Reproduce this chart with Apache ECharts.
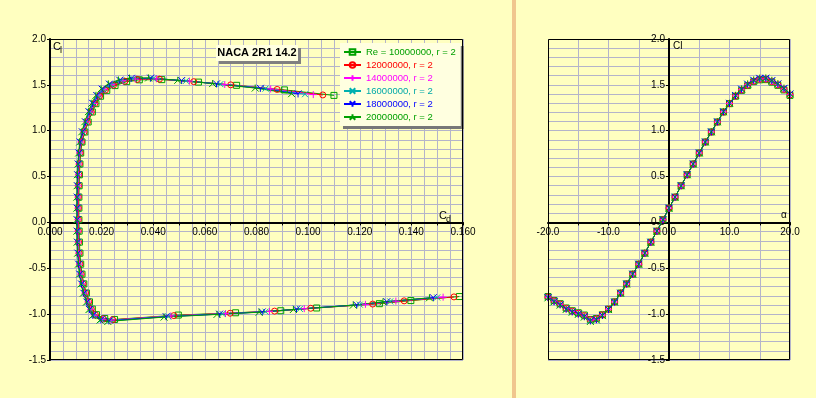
<!DOCTYPE html>
<html><head><meta charset="utf-8">
<script src="https://cdn.jsdelivr.net/npm/echarts@6/dist/echarts.min.js"></script>
<style>html,body{margin:0;padding:0;background:#FFFFC0}#c{width:816px;height:398px}</style>
</head><body><div id="c"></div><script>
// ---- data ----
const alpha = [-20,-19,-18,-17,-16,-15,-14,-13,-12,-11,-10,-9,-8,-7,-6,-5,-4,-3,-2,-1,0,1,2,3,4,5,6,7,8,9,10,11,12,13,14,15,16,17,18,19,20];
const seriesNames = ['Re = 10000000, r = 2','12000000, r = 2','14000000, r = 2','16000000, r = 2','18000000, r = 2','20000000, r = 2'];

const cl10 = [-0.808,-0.852,-0.886,-0.933,-0.963,-0.985,-1.010,-1.058,-1.048,-1.006,-0.945,-0.866,-0.770,-0.670,-0.564,-0.455,-0.335,-0.215,-0.095,0.030,0.156,0.276,0.400,0.520,0.637,0.757,0.877,0.986,1.095,1.204,1.295,1.376,1.440,1.492,1.535,1.555,1.557,1.530,1.495,1.445,1.385];
const cd10 = [0.1586,0.1398,0.1276,0.1033,0.0894,0.0719,0.0497,0.0250,0.0212,0.0180,0.0164,0.0153,0.0141,0.0131,0.0124,0.0119,0.0116,0.0114,0.0113,0.0112,0.0112,0.0112,0.0113,0.0114,0.0116,0.0119,0.0124,0.0135,0.0148,0.0164,0.0178,0.0196,0.0220,0.0252,0.0297,0.0346,0.0433,0.0575,0.0723,0.0908,0.1100];

const cl12 = [-0.812,-0.855,-0.890,-0.936,-0.967,-0.990,-1.016,-1.062,-1.052,-1.008,-0.946,-0.866,-0.770,-0.670,-0.564,-0.455,-0.335,-0.215,-0.095,0.030,0.156,0.276,0.400,0.520,0.637,0.757,0.877,0.986,1.095,1.204,1.296,1.378,1.444,1.497,1.540,1.560,1.562,1.535,1.500,1.450,1.390];
const cd12 = [0.1565,0.1372,0.1250,0.1010,0.0870,0.0698,0.0480,0.0243,0.0207,0.0176,0.0160,0.0150,0.0138,0.0128,0.0121,0.0116,0.0113,0.0111,0.0110,0.0110,0.0110,0.0110,0.0111,0.0112,0.0114,0.0117,0.0122,0.0132,0.0145,0.0160,0.0174,0.0192,0.0215,0.0246,0.0290,0.0338,0.0424,0.0557,0.0700,0.0880,0.1057];

const cl14 = [-0.815,-0.858,-0.893,-0.940,-0.970,-0.994,-1.020,-1.066,-1.055,-1.010,-0.947,-0.867,-0.771,-0.670,-0.564,-0.455,-0.335,-0.215,-0.095,0.030,0.156,0.276,0.400,0.520,0.637,0.757,0.877,0.987,1.096,1.205,1.297,1.380,1.447,1.501,1.544,1.564,1.566,1.540,1.504,1.455,1.394];
const cd14 = [0.1523,0.1340,0.1222,0.0985,0.0850,0.0680,0.0468,0.0237,0.0203,0.0172,0.0157,0.0147,0.0135,0.0126,0.0119,0.0114,0.0111,0.0109,0.0108,0.0108,0.0108,0.0108,0.0109,0.0110,0.0112,0.0115,0.0120,0.0129,0.0142,0.0157,0.0171,0.0188,0.0210,0.0240,0.0283,0.0330,0.0412,0.0540,0.0677,0.0855,0.1020];

const cl16 = [-0.818,-0.861,-0.896,-0.943,-0.973,-0.997,-1.024,-1.070,-1.058,-1.012,-0.948,-0.868,-0.771,-0.671,-0.564,-0.455,-0.335,-0.215,-0.095,0.030,0.156,0.276,0.400,0.520,0.637,0.757,0.877,0.987,1.096,1.206,1.298,1.382,1.450,1.505,1.548,1.568,1.570,1.544,1.508,1.459,1.398];
const cd16 = [0.1500,0.1318,0.1200,0.0968,0.0835,0.0668,0.0458,0.0232,0.0200,0.0169,0.0155,0.0145,0.0133,0.0124,0.0117,0.0112,0.0109,0.0107,0.0107,0.0106,0.0106,0.0107,0.0107,0.0109,0.0111,0.0114,0.0118,0.0127,0.0139,0.0154,0.0168,0.0185,0.0206,0.0235,0.0276,0.0322,0.0400,0.0527,0.0660,0.0835,0.0988];

const cl18 = [-0.820,-0.864,-0.899,-0.946,-0.976,-1.000,-1.028,-1.074,-1.061,-1.014,-0.949,-0.868,-0.772,-0.671,-0.564,-0.455,-0.335,-0.215,-0.095,0.030,0.156,0.276,0.400,0.520,0.637,0.757,0.877,0.988,1.097,1.207,1.299,1.384,1.453,1.508,1.551,1.571,1.573,1.547,1.511,1.462,1.401];
const cd18 = [0.1485,0.1305,0.1188,0.0955,0.0822,0.0657,0.0450,0.0228,0.0197,0.0166,0.0153,0.0143,0.0131,0.0122,0.0115,0.0111,0.0108,0.0106,0.0105,0.0105,0.0105,0.0105,0.0106,0.0107,0.0109,0.0112,0.0117,0.0125,0.0137,0.0151,0.0165,0.0181,0.0202,0.0230,0.0270,0.0315,0.0390,0.0510,0.0645,0.0815,0.0961];

const cl20 = [-0.822,-0.866,-0.902,-0.949,-0.979,-1.003,-1.032,-1.080,-1.064,-1.016,-0.950,-0.869,-0.772,-0.671,-0.564,-0.455,-0.335,-0.215,-0.095,0.030,0.156,0.276,0.400,0.520,0.637,0.757,0.877,0.988,1.098,1.208,1.300,1.386,1.456,1.511,1.554,1.574,1.576,1.550,1.514,1.465,1.404];
const cd20 = [0.1470,0.1290,0.1175,0.0943,0.0810,0.0647,0.0442,0.0224,0.0194,0.0164,0.0151,0.0141,0.0129,0.0120,0.0114,0.0110,0.0107,0.0105,0.0104,0.0104,0.0104,0.0104,0.0105,0.0106,0.0108,0.0111,0.0115,0.0123,0.0135,0.0149,0.0162,0.0178,0.0198,0.0226,0.0265,0.0308,0.0382,0.0495,0.0630,0.0795,0.0936];

const cdTickLabels = ['0.000','0.020','0.040','0.060','0.080','0.100','0.120','0.140','0.160'];
const clTickLabels = ['-1.5','-1.0','-0.5','0.0','0.5','1.0','1.5','2.0'];
const alphaTickLabels = ['-20.0','-10.0','0.0','10.0','20.0'];
const titleText = 'NACA 2R1 14.2';

// ---- styles ----
const cdSets = [cd10, cd12, cd14, cd16, cd18, cd20];
const clSets = [cl10, cl12, cl14, cl16, cl18, cl20];
const colors = ['#00A000','#FF0000','#FF00FF','#00B0B0','#0000FF','#00A000'];
const textColors = ['#00A000','#FF0000','#FF00FF','#00A8A8','#0000FF','#00A000'];
const symbols = ['rect','circle','path://M5,0L5,10M0,5L10,5','path://M0,0L10,10M10,0L0,10','path://M0,0L5,5L10,0M5,5L5,10','path://M5,0L5,5L0,10M5,5L10,10'];
const symSizes = [6,6,7,6,7,7];
const GRIDC = '#B4B4CA';
const FONT = '"Liberation Sans", Arial, sans-serif';

// layout
const G0 = {left: 50, top: 39, width: 413, height: 321};
const G1 = {left: 548, top: 39, width: 242, height: 321};
const CL_MIN = -1.5, CL_MAX = 2.0;
const zeroFromBottom0 = G0.height * (0 - CL_MIN) / (CL_MAX - CL_MIN);
const zeroFromBottom1 = G1.height * (0 - CL_MIN) / (CL_MAX - CL_MIN);
const zeroFromLeft1 = G1.width * (0 - (-20)) / 40;

function labelFor(list, v){
  for (const s of list){ if (Math.abs(parseFloat(s) - v) < 1e-9) return s; }
  return '';
}

const series = [];
for (let k = 0; k < 6; k++) {
  const common = {
    name: seriesNames[k], type: 'line', symbol: symbols[k], symbolSize: symSizes[k],
    showAllSymbol: true, animation: false,
    lineStyle: {color: colors[k], width: 1},
    itemStyle: {color: 'rgba(0,0,0,0)', borderColor: colors[k], borderWidth: 1},
    emphasis: {disabled: true}
  };
  series.push(Object.assign({}, common, {
    xAxisIndex: 0, yAxisIndex: 0,
    data: cdSets[k].map((c, i) => [c, clSets[k][i]])
  }));
  series.push(Object.assign({}, common, {
    xAxisIndex: 1, yAxisIndex: 1,
    data: alpha.map((a, i) => [a, clSets[k][i]])
  }));
}

function yAx(gi, off){
  return {
    gridIndex: gi, type: 'value', min: CL_MIN, max: CL_MAX, interval: 0.5,
    position: 'left', offset: off,
    axisLine: {show: true, onZero: false, lineStyle: {color: '#000', width: 2}},
    axisTick: {show: true, length: 3, lineStyle: {color: '#000'}},
    minorTick: {show: false, splitNumber: 5},
    axisLabel: {color: '#000', fontSize: 10, fontFamily: FONT, margin: 4, showMinLabel: true, showMaxLabel: true,
      formatter: v => labelFor(clTickLabels, v)},
    splitLine: {show: true, lineStyle: {color: GRIDC, width: 1}},
    minorSplitLine: {show: true, lineStyle: {color: GRIDC, width: 1}}
  };
}

function frame(g){
  return {type: 'rect', z: 20, silent: true,
    shape: {x: g.left + 0.5, y: g.top + 0.5, width: g.width - 1, height: g.height - 1},
    style: {fill: 'none', stroke: '#000', lineWidth: 1}};
}

const option = {
  backgroundColor: '#FFFFC0',
  animation: false,
  grid: [
    Object.assign({show: false, containLabel: false}, G0),
    Object.assign({show: false, containLabel: false}, G1)
  ],
  xAxis: [
    {gridIndex: 0, type: 'value', min: 0, max: 0.16, interval: 0.01,
      position: 'bottom', offset: -zeroFromBottom0,
      axisLine: {show: true, onZero: false, lineStyle: {color: '#000', width: 2}},
      axisTick: {show: true, length: 3, lineStyle: {color: '#000'}},
      minorTick: {show: false, splitNumber: 2},
      axisLabel: {color: '#000', fontSize: 10, fontFamily: FONT, margin: 5, showMinLabel: true, showMaxLabel: true,
        formatter: v => labelFor(cdTickLabels, v)},
      splitLine: {show: true, lineStyle: {color: GRIDC, width: 1}},
      minorSplitLine: {show: true, lineStyle: {color: GRIDC, width: 1}}},
    {gridIndex: 1, type: 'value', min: -20, max: 20, interval: 5,
      position: 'bottom', offset: -zeroFromBottom1,
      axisLine: {show: true, onZero: false, lineStyle: {color: '#000', width: 2}},
      axisTick: {show: true, length: 3, lineStyle: {color: '#000'}},
      axisLabel: {color: '#000', fontSize: 10, fontFamily: FONT, margin: 5, showMinLabel: true, showMaxLabel: true,
        formatter: v => labelFor(alphaTickLabels, v)},
      splitLine: {show: true, lineStyle: {color: GRIDC, width: 1}}}
  ],
  yAxis: [yAx(0, 0), yAx(1, -zeroFromLeft1)],
  legend: {
    show: true, orient: 'vertical', left: 340, top: 43, selectedMode: false,
    itemWidth: 17, itemHeight: 7, itemGap: 3,
    padding: [4, 5, 4, 3],
    backgroundColor: '#FFFFE0',
    shadowColor: 'rgba(120,120,120,1)', shadowOffsetX: 3, shadowOffsetY: 3, shadowBlur: 0,
    textStyle: {fontSize: 9.5, fontFamily: FONT},
    data: seriesNames.map((n, k) => ({name: n, textStyle: {color: textColors[k]}}))
  },
  graphic: [
    {type: 'rect', shape: {x: 512, y: 0, width: 4, height: 398}, style: {fill: '#F0C68E'}, z: 0},
    frame(G0), frame(G1),
    {type: 'rect', shape: {x: 219, y: 48, width: 82, height: 16}, style: {fill: '#808080'}, z: 10},
    {type: 'rect', shape: {x: 216, y: 45, width: 82, height: 16}, style: {fill: '#FFFFE0'}, z: 11},
    {type: 'text', x: 257, y: 53, z: 12, style: {text: titleText, fill: '#000', font: 'bold 11px ' + FONT, align: 'center', verticalAlign: 'middle'}},
    {type: 'text', x: 53, y: 41, z: 12, style: {text: 'C', fill: '#000', font: '11px ' + FONT}},
    {type: 'text', x: 60, y: 46, z: 12, style: {text: 'l', fill: '#000', font: '9px ' + FONT}},
    {type: 'text', x: 439, y: 210, z: 12, style: {text: 'C', fill: '#000', font: '11px ' + FONT}},
    {type: 'text', x: 446, y: 215, z: 12, style: {text: 'd', fill: '#000', font: '9px ' + FONT}},
    {type: 'text', x: 673, y: 41, z: 12, style: {text: 'Cl', fill: '#000', font: '10px ' + FONT}},
    {type: 'text', x: 781, y: 210, z: 12, style: {text: 'α', fill: '#000', font: '10px ' + FONT}}
  ],
  series: series
};

const chart = echarts.init(document.getElementById('c'), null, {renderer: 'canvas'});
chart.setOption(option);
</script></body></html>
